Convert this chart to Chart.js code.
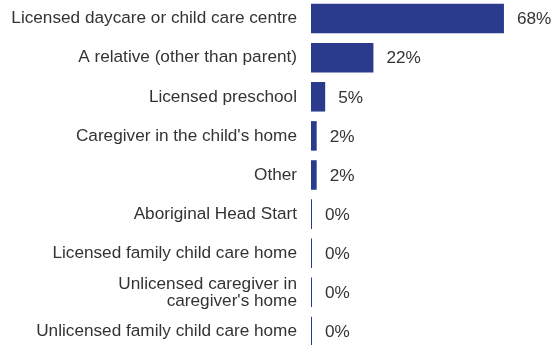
<!DOCTYPE html>
<html>
<head>
<meta charset="utf-8">
<script src="https://cdn.jsdelivr.net/npm/chart.js@4"></script>
<style>
  html, body { margin: 0; padding: 0; background: #fff; overflow: hidden; }
  #careChart { position: absolute; left: 0; top: -1px; }
</style>
</head>
<body>
<canvas id="careChart" width="557" height="352"></canvas>
<script>
// care arrangement categories and share of children (%)
const categories = [
    'Licensed daycare or child care centre',
    'A relative (other than parent)',
    'Licensed preschool',
    "Caregiver in the child's home",
    'Other',
    'Aboriginal Head Start',
    'Licensed family child care home',
    ['Unlicensed caregiver in', "caregiver's home"],
    'Unlicensed family child care home'
];
const shares = [68, 22, 5, 2, 2, 0, 0, 0, 0];
const shareLabels = ['68%', '22%', '5%', '2%', '2%', '0%', '0%', '0%', '0%'];

const barColor = '#2a3a8c';
const textColor = '#333333';
const fontFamily = '"Liberation Sans", Arial, sans-serif';

// writes the percentage to the right of each bar
const valueLabels = {
    id: 'valueLabels',
    afterDatasetsDraw(chart) {
        const ctx = chart.ctx;
        const meta = chart.getDatasetMeta(0);
        ctx.save();
        ctx.font = '17.2px ' + fontFamily;
        ctx.fillStyle = textColor;
        ctx.textAlign = 'left';
        ctx.textBaseline = 'middle';
        meta.data.forEach((bar, i) => {
            ctx.fillText(shareLabels[i], bar.x + 13, bar.y + 1);
        });
        ctx.restore();
    }
};

const ctx = document.getElementById('careChart').getContext('2d');
new Chart(ctx, {
    type: 'bar',
    data: {
        labels: categories,
        datasets: [{
            data: shares,
            backgroundColor: barColor,
            borderWidth: 0,
            minBarLength: 1,
            barPercentage: 0.755,
            categoryPercentage: 1
        }]
    },
    options: {
        indexAxis: 'y',
        responsive: false,
        animation: false,
        layout: { padding: { left: 0, right: 19, top: 0, bottom: 0 } },
        scales: {
            x: {
                display: false,
                min: 0,
                max: 80
            },
            y: {
                grid: { display: false, drawTicks: false },
                border: { display: false },
                ticks: {
                    color: textColor,
                    padding: 14,
                    font: { family: fontFamily, size: 17.2, lineHeight: 0.98 }
                },
                afterFit(scale) {
                    scale.width = 311;
                    scale.paddingTop = 0;
                    scale.paddingBottom = 0;
                }
            }
        },
        plugins: {
            legend: { display: false },
            tooltip: { enabled: false }
        }
    },
    plugins: [valueLabels]
});
</script>
</body>
</html>
